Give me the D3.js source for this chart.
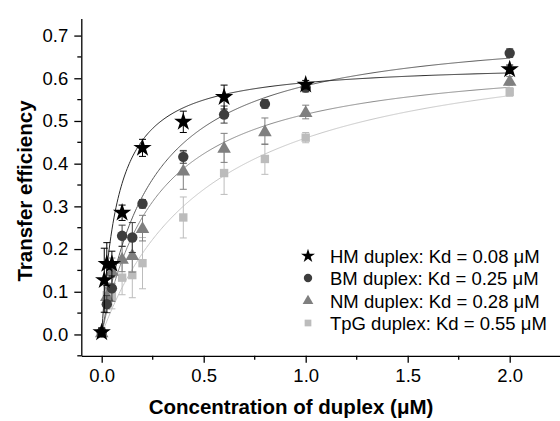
<!DOCTYPE html>
<html>
<head>
<meta charset="utf-8">
<script src="https://cdn.jsdelivr.net/npm/d3@7"></script>
<style>
  body { margin: 0; background: #fff; }
  svg text { font-family: Arial, "Liberation Sans", sans-serif; }
</style>
</head>
<body>
<div class="chart"></div>
<script>
// Series data (concentration in uM, transfer efficiency, error half-width)
const hmX = [0, 0.0125, 0.025, 0.05, 0.1, 0.2, 0.4, 0.6, 1.0, 2.0];
const hmY = [0.005, 0.127, 0.165, 0.165, 0.285, 0.437, 0.498, 0.556, 0.585, 0.621];
const hmErr = [0.01, 0.075, 0.05, 0.03, 0.018, 0.02, 0.025, 0.028, 0.01, 0.01];

const bmX = [0, 0.025, 0.05, 0.1, 0.15, 0.2, 0.4, 0.6, 0.8, 1.0, 2.0];
const bmY = [0.005, 0.071, 0.108, 0.231, 0.227, 0.306, 0.416, 0.515, 0.54, 0.578, 0.659];
const bmErr = [0.01, 0.02, 0.03, 0.025, 0.035, 0.01, 0.015, 0.02, 0.01, 0.01, 0.01];

const nmX = [0, 0.025, 0.05, 0.1, 0.15, 0.2, 0.4, 0.6, 0.8, 1.0, 2.0];
const nmY = [0.005, 0.09, 0.149, 0.177, 0.186, 0.249, 0.384, 0.437, 0.476, 0.521, 0.594];
const nmErr = [0.01, 0.03, 0.03, 0.03, 0.04, 0.03, 0.044, 0.034, 0.031, 0.016, 0.01];

const tpgX = [0, 0.025, 0.05, 0.1, 0.15, 0.2, 0.4, 0.6, 0.8, 1.0, 2.0];
const tpgY = [0.003, 0.092, 0.09, 0.133, 0.139, 0.167, 0.274, 0.378, 0.411, 0.461, 0.568];
const tpgErr = [0.01, 0.02, 0.03, 0.04, 0.053, 0.06, 0.048, 0.05, 0.036, 0.012, 0.01];

// Hyperbolic fit parameters (Kd from legend, plateau)
const fitKd = [0.08, 0.25, 0.28, 0.55];
const fitBmax = [0.637, 0.728, 0.66, 0.713];

const seriesNames = ["HM duplex: Kd = 0.08 μM", "BM duplex: Kd = 0.25 μM",
                     "NM duplex: Kd = 0.28 μM", "TpG duplex: Kd = 0.55 μM"];
const xTicks = [0, 0.5, 1.0, 1.5, 2.0];
const yTicks = [0, 0.1, 0.2, 0.3, 0.4, 0.5, 0.6, 0.7];

const width = 560, height = 421;
const xScale = d3.scaleLinear().domain([-0.1, 2.25]).range([81.3, 560.7]);
const yScale = d3.scaleLinear().domain([-0.05, 0.74]).range([355.8, 18.5]);

const markerColors = ["#000000", "#3d3d3d", "#7f7f7f", "#bcbcbc"];
const lineColors = ["#2a2a2a", "#5a5a5a", "#8a8a8a", "#c8c8c8"];
const symbols = [d3.symbolStar, d3.symbolCircle, d3.symbolTriangle, d3.symbolSquare];
const symSizes = [105, 85, 80, 70];

const series = [
  {x: hmX, y: hmY, e: hmErr},
  {x: bmX, y: bmY, e: bmErr},
  {x: nmX, y: nmY, e: nmErr},
  {x: tpgX, y: tpgY, e: tpgErr}
].map((s, i) => ({
  i: i,
  pts: s.x.map((x, j) => ({x: x, y: s.y[j], e: s.e[j]}))
}));

const svg = d3.select(".chart").append("svg")
  .attr("width", width).attr("height", height);

/* Fit curves */
const line = d3.line().x(d => xScale(d[0])).y(d => yScale(d[1]));
const xs = d3.range(0, 2.0001, 0.005);
[3, 2, 1, 0].forEach(i => {
  svg.append("path")
    .datum(xs.map(x => [x, fitBmax[i] * x / (fitKd[i] + x)]))
    .attr("fill", "none")
    .attr("stroke", lineColors[i])
    .attr("stroke-width", 1)
    .attr("d", line);
});

/* Error bars + markers, drawn light to dark */
[3, 2, 1, 0].forEach(i => {
  const s = series[i];
  const g = svg.append("g");
  const eb = g.selectAll("g.err").data(s.pts).enter().append("g")
    .attr("stroke", markerColors[i]).attr("stroke-width", 1);
  eb.append("line")
    .attr("x1", d => xScale(d.x)).attr("x2", d => xScale(d.x))
    .attr("y1", d => yScale(d.y - d.e)).attr("y2", d => yScale(d.y + d.e));
  [-1, 1].forEach(sg => {
    eb.append("line")
      .attr("x1", d => xScale(d.x) - 3.5).attr("x2", d => xScale(d.x) + 3.5)
      .attr("y1", d => yScale(d.y + sg * d.e)).attr("y2", d => yScale(d.y + sg * d.e));
  });
  g.selectAll("path.pt").data(s.pts).enter().append("path")
    .attr("d", d3.symbol().type(symbols[i]).size(symSizes[i]))
    .attr("transform", d => `translate(${xScale(d.x)},${yScale(d.y) + (i === 2 ? 1 : 0)})`)
    .attr("fill", markerColors[i]);
});

/* Axes */
const xAxisY = yScale.range()[0];
const xMinor = d3.range(-0, 2.26, 0.25).filter(v => Math.abs(v * 2 - Math.round(v * 2)) > 0.01);
const gx = svg.append("g")
  .attr("transform", `translate(0,${xAxisY})`)
  .call(d3.axisBottom(xScale).tickValues(xTicks).tickFormat(d3.format(".1f"))
    .tickSizeInner(7).tickSizeOuter(0).tickPadding(6));
gx.selectAll(".tick text").style("font-size", "18.5px").attr("fill", "#000");
gx.selectAll("line, path").attr("stroke", "#000").attr("stroke-width", 1.3);
gx.selectAll(".minor").data(xMinor).enter().append("line")
  .attr("x1", d => xScale(d)).attr("x2", d => xScale(d))
  .attr("y1", 0).attr("y2", 4)
  .attr("stroke", "#000").attr("stroke-width", 1.3);

const yMinor = d3.range(-0.05, 0.74, 0.1).map(v => +v.toFixed(2));
const gy = svg.append("g")
  .attr("transform", `translate(${xScale.range()[0]},0)`)
  .call(d3.axisLeft(yScale).tickValues(yTicks).tickFormat(d3.format(".1f"))
    .tickSizeInner(7).tickSizeOuter(0).tickPadding(6));
gy.selectAll(".tick text").style("font-size", "18.5px").attr("fill", "#000");
gy.selectAll("line, path").attr("stroke", "#000").attr("stroke-width", 1.3);
gy.selectAll(".minor").data(yMinor).enter().append("line")
  .attr("y1", d => yScale(d)).attr("y2", d => yScale(d))
  .attr("x1", 0).attr("x2", -4)
  .attr("stroke", "#000").attr("stroke-width", 1.3);

/* Axis titles */
svg.append("text")
  .attr("x", 291).attr("y", 414)
  .attr("text-anchor", "middle")
  .style("font-size", "20.5px").style("font-weight", "bold")
  .text("Concentration of duplex (μM)");
svg.append("text")
  .attr("transform", "translate(32,191) rotate(-90)")
  .attr("text-anchor", "middle")
  .style("font-size", "20.5px").style("font-weight", "bold")
  .text("Transfer efficiency");

/* Legend */
const legendY = [256, 278, 301, 323];
const legend = svg.append("g");
seriesNames.forEach((name, i) => {
  legend.append("path")
    .attr("d", d3.symbol().type(symbols[i]).size([60, 55, 50, 45][i]))
    .attr("transform", `translate(308,${legendY[i]})`)
    .attr("fill", markerColors[i]);
  legend.append("text")
    .attr("x", 330).attr("y", legendY[i] + 6.5)
    .style("font-size", "18.5px")
    .attr("fill", "#000")
    .text(name);
});
</script>
</body>
</html>
